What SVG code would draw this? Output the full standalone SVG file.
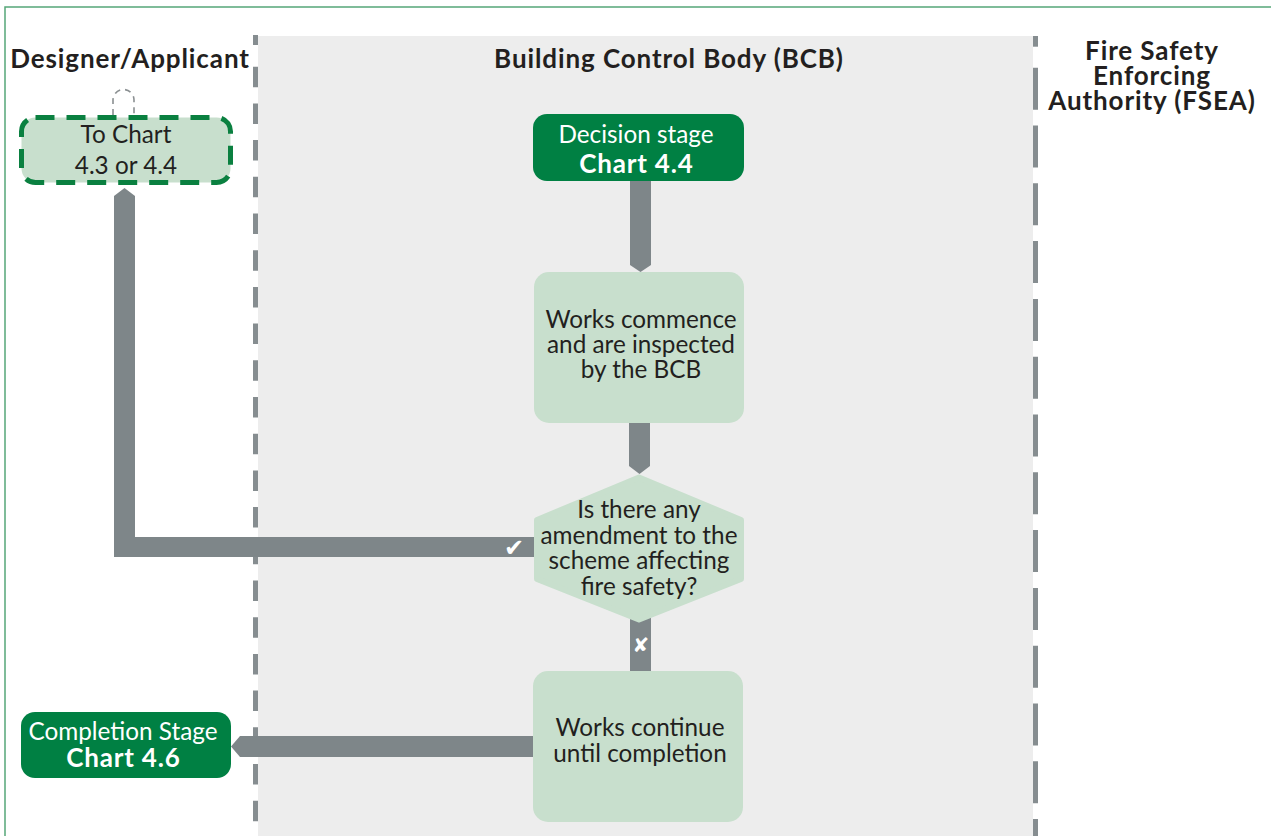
<svg xmlns="http://www.w3.org/2000/svg" width="1271" height="836" viewBox="0 0 1271 836">
  <style>
    .lane-title { font-family: "Lato", "Liberation Sans", sans-serif; font-weight: 700; font-size: 26px; letter-spacing: 0.9px; fill: #231f20; text-anchor: middle; }
    .label { font-family: "Lato", "Liberation Sans", sans-serif; font-size: 24.3px; fill: #231f20; text-anchor: middle; }
    .label-light { font-family: "Lato", "Liberation Sans", sans-serif; font-size: 24.3px; fill: #ffffff; text-anchor: middle; }
    .bold { font-weight: 700; font-size: 26px; letter-spacing: 0.8px; }
    .terminal { fill: #008043; }
    .step { fill: #c8dfcd; }
    .bar { fill: #7e8689; }
    .divider { stroke: #868d90; stroke-width: 5; fill: none; }
    .mark { font-family: "DejaVu Sans", sans-serif; fill: #ffffff; text-anchor: middle; }
  </style>

  <!-- page -->
  <rect x="0" y="0" width="1271" height="836" fill="#ffffff"/>
  <path d="M5,836 V7 H1271" fill="none" stroke="#55a678" stroke-width="1.5"/>

  <!-- swimlanes -->
  <g id="lanes">
    <rect x="258" y="36" width="775" height="800" fill="#ededed"/>
    <line class="divider" x1="255.5" y1="35" x2="255.5" y2="45"/>
    <line class="divider" x1="255.5" y1="66.7" x2="255.5" y2="836" stroke-dasharray="20.5 16.2"/>
    <line class="divider" x1="1035.5" y1="36" x2="1035.5" y2="46.7"/>
    <line class="divider" x1="1035.5" y1="67.7" x2="1035.5" y2="836" stroke-dasharray="42 15.8"/>
    <text class="lane-title" x="130" y="68">Designer/Applicant</text>
    <text class="lane-title" x="669" y="68">Building Control Body (BCB)</text>
    <text class="lane-title" x="1152"><tspan x="1152" y="60">Fire Safety</tspan><tspan x="1152" y="85">Enforcing</tspan><tspan x="1152" y="110">Authority (FSEA)</tspan></text>
  </g>

  <!-- connectors -->
  <g id="connectors">
    <polygon class="bar" points="630,181 651,181 651,265 640.5,272 630,265"/>
    <polygon class="bar" points="629,423 650,423 650,466 639.5,474 629,466"/>
    <polygon class="bar" points="536,537 135,537 135,196 124.5,188 114,196 114,557 536,557"/>
    <rect class="bar" x="630" y="616" width="21" height="57"/>
    <polygon class="bar" points="535,736 240,736 231,746.5 240,757 535,757"/>
    <text class="mark" x="514" y="556" font-size="24">✔</text>
    <text class="mark" x="641" y="652" font-size="20">✘</text>
    <path d="M113,115 V100 A10.5,10.5 0 0 1 134,100 V115" fill="none" stroke="#8a8f91" stroke-width="1.6" stroke-dasharray="6 5"/>
  </g>

  <!-- nodes -->
  <g id="node-to-chart">
    <rect class="step" x="21.5" y="117.5" width="209" height="65" rx="14"/>
    <rect x="21.5" y="117.5" width="209" height="65" rx="14" fill="none" stroke="#0a8040" stroke-width="5" stroke-dasharray="19 12"/>
    <text class="label" x="126"><tspan x="126" y="143">To Chart</tspan><tspan x="126" y="174">4.3 or 4.4</tspan></text>
  </g>

  <g id="node-decision-stage">
    <rect class="terminal" x="533" y="114" width="211" height="67" rx="14"/>
    <text class="label-light" x="636"><tspan x="636" y="143">Decision stage</tspan><tspan class="bold" x="636.4" y="173">Chart 4.4</tspan></text>
  </g>

  <g id="node-works-commence">
    <rect class="step" x="534" y="272" width="210" height="151" rx="15"/>
    <text class="label" x="641"><tspan x="641" y="328">Works commence</tspan><tspan x="641" y="353">and are inspected</tspan><tspan x="641" y="378">by the BCB</tspan></text>
  </g>

  <g id="node-amendment">
    <polygon class="step" points="639,477.5 537,520 537,579 639,619.5 741,579 741,520" stroke="#c8dfcd" stroke-width="6" stroke-linejoin="round"/>
    <text class="label" x="639"><tspan x="639" y="518">Is there any</tspan><tspan x="639" y="544">amendment to the</tspan><tspan x="639" y="569">scheme affecting</tspan><tspan x="639" y="595">fire safety?</tspan></text>
  </g>

  <g id="node-works-continue">
    <rect class="step" x="533" y="671" width="210" height="151" rx="15"/>
    <text class="label" x="640"><tspan x="640" y="736">Works continue</tspan><tspan x="640" y="762">until completion</tspan></text>
  </g>

  <g id="node-completion-stage">
    <rect class="terminal" x="21" y="712" width="210" height="66" rx="14"/>
    <text class="label-light" x="123"><tspan x="123" y="740">Completion Stage</tspan><tspan class="bold" x="123.4" y="767">Chart 4.6</tspan></text>
  </g>
</svg>
